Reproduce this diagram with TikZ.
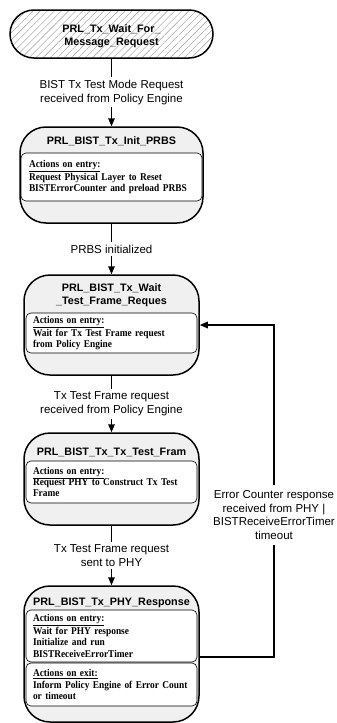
\documentclass[tikz,border=0pt]{standalone}
\usepackage{fontspec}
\setmainfont{Liberation Serif}
\setsansfont{Liberation Sans}
\newfontfamily\actfont{Liberation Serif}[FakeStretch=0.9]
\usetikzlibrary{arrows.meta,patterns.meta}

\begin{document}
\begin{tikzpicture}[x=1pt,y=-1pt,
        font=\sffamily\fontsize{11.5}{13.8}\selectfont,
        start/.style={rectangle, rounded corners=24pt, draw, line width=1.5pt,
                      pattern={Lines[angle=45,distance=5pt,line width=0.4pt]},
                      pattern color=black!40, minimum width=203pt, minimum height=48pt},
        state/.style={rectangle, rounded corners=26pt, draw, line width=1.5pt,
                      fill=black!6, minimum width=175pt},
        title/.style={font=\sffamily\bfseries\fontsize{10.8}{13}\selectfont, align=center,
                      inner sep=0pt},
        actions/.style={rectangle, rounded corners=5pt, draw, line width=0.6pt, fill=white,
                        align=left, inner xsep=7pt, text width=157pt,
                        font=\actfont\bfseries\fontsize{10.4}{11.3}\selectfont},
        lbl/.style={fill=white, align=center, inner xsep=2pt, inner ysep=3pt},
        flow/.style={line width=1.5pt, -{Triangle[length=8pt,width=6.5pt]}},
      ]
        \useasboundingbox[fill=white] (0,0) rectangle (337,723);

        \node[start] (wait) at (111.5,34) {};
        \node[title] (wait-t) at (111.5,36.5) {PRL\_Tx\_Wait\_For\_\\Message\_Request};

        \node[state, minimum width=183pt, minimum height=96pt] (init) at (111.5,175) {};
        \node[title] (init-t) at (111.5,141) {PRL\_BIST\_Tx\_Init\_PRBS};
        \node[actions, minimum width=181pt, text width=165pt, inner xsep=8pt,
              minimum height=48pt] (init-a) at (111.5,177)
          {\underline{Actions on entry:}\\
           Request Physical Layer to Reset\\
           \mbox{BISTErrorCounter and preload PRBS}};

        \node[state, minimum height=100pt] (wframe) at (111.5,325) {};
        \node[title] (wframe-t) at (111.5,295.5) {PRL\_BIST\_Tx\_Wait\\\_Test\_Frame\_Reques};
        \node[actions, minimum width=171pt, minimum height=40pt] (wframe-a) at (111.5,333)
          {\underline{Actions on entry:}\\
           Wait for Tx Test Frame request\\
           from Policy Engine};

        \node[state, minimum height=92pt] (txframe) at (111.5,479) {};
        \node[title] (txframe-t) at (111.5,452) {PRL\_BIST\_Tx\_Tx\_Test\_Fram};
        \node[actions, minimum width=171pt, minimum height=42pt] (txframe-a) at (111.5,482)
          {\underline{Actions on entry:}\\
           \mbox{Request PHY to Construct Tx Test}\\
           Frame};

        \node[state, minimum height=136pt] (resp) at (111.5,654) {};
        \node[title] (resp-t) at (111.5,603) {PRL\_BIST\_Tx\_PHY\_Response};
        \node[actions, minimum width=171pt, minimum height=52pt] (resp-a) at (111.5,636)
          {\underline{Actions on entry:}\\
           Wait for PHY response\\
           Initialize and run\\
           BISTReceiveErrorTimer};
        \node[actions, minimum width=171pt, minimum height=43pt] (resp-b) at (111.5,684.5)
          {\underline{Actions on exit:}\\
           \mbox{Inform Policy Engine of Error Count}\\
           or timeout};

        \draw[flow] (wait.south) -- node[lbl] (l1)
          {BIST Tx Test Mode Request\\received from Policy Engine} (init.north);
        \draw[flow] (init.south) -- node[lbl] (l2) {PRBS initialized} (wframe.north);
        \draw[flow] (wframe.south) -- node[lbl] (l3)
          {Tx Test Frame request\\received from Policy Engine} (txframe.north);
        \draw[flow] (txframe.south) -- node[lbl] (l4)
          {Tx Test Frame request\\sent to PHY} (resp.north);

        \coordinate (back) at (274,325);
        \draw[flow] ([yshift=-3pt]resp.east) -| (back) -- (wframe.east);
        \node[lbl, inner ysep=5pt] (l5) at (274,515)
          {Error Counter response\\received from PHY |\\BISTReceiveErrorTimer\\timeout};
      \end{tikzpicture}
\end{document}
